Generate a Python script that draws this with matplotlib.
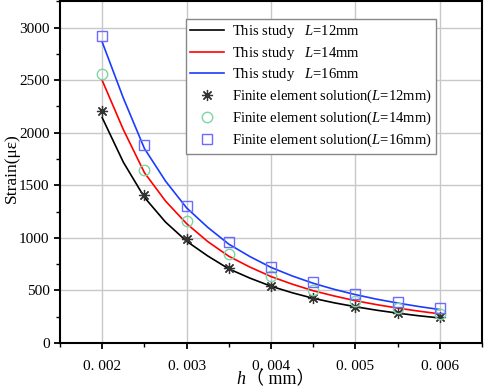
import matplotlib
matplotlib.use("Agg")
import matplotlib.pyplot as plt
from matplotlib.ticker import MultipleLocator, FixedLocator, FixedFormatter

plt.rcParams['font.family'] = ['Liberation Serif', 'DejaVu Serif']
plt.rcParams['mathtext.fontset'] = 'custom'
plt.rcParams['mathtext.rm'] = 'Liberation Serif'
plt.rcParams['mathtext.it'] = 'Liberation Serif:italic'

# Finite element solution (markers)
h_fe = [0.002, 0.0025, 0.003, 0.0035, 0.004, 0.0045, 0.005, 0.0055, 0.006]
fe_12 = [2205, 1405, 992, 715, 541, 427, 345, 288, 246]
fe_14 = [2555, 1650, 1160, 842, 636, 503, 399, 329, 275]
fe_16 = [2918, 1880, 1304, 956, 725, 582, 465, 392, 329]

# This study (curves), read at finer spacing
h_cur = [0.002, 0.00225, 0.0025, 0.00275, 0.003, 0.00325, 0.0035, 0.00375, 0.004,
         0.00425, 0.0045, 0.00475, 0.005, 0.00525, 0.0055, 0.00575, 0.006]
cur_12 = [2143, 1720, 1385, 1150, 968, 828, 705, 617, 540, 478, 425, 382, 345, 312, 284, 259, 238]
cur_14 = [2497, 2030, 1620, 1350, 1135, 965, 825, 722, 632, 560, 497, 447, 402, 365, 332, 303, 277]
cur_16 = [2862, 2330, 1850, 1540, 1285, 1100, 940, 822, 719, 638, 568, 510, 460, 417, 380, 347, 318]

xticks = [0.002, 0.003, 0.004, 0.005, 0.006]
xticklabels = ['0. 002', '0. 003', '0. 004', '0. 005', '0. 006']
yticks = [0, 500, 1000, 1500, 2000, 2500, 3000]

fig = plt.figure(figsize=(4.84, 3.92), dpi=100)
ax = fig.add_axes([0.124, 0.125, 0.872, 0.873])

ax.plot(h_cur, cur_12, color='black', lw=1.2, label='This study   $L$=12mm')
ax.plot(h_cur, cur_14, color='#ff0000', lw=1.2, label='This study   $L$=14mm')
ax.plot(h_cur, cur_16, color='#1a3cff', lw=1.2, label='This study   $L$=16mm')
ax.plot(h_fe, fe_12, linestyle='none', marker=(8, 2, 0), ms=8, mec='#333333', mew=0.9,
        label='Finite element solution($L$=12mm)')
ax.plot(h_fe, fe_14, linestyle='none', marker='o', ms=7.5, mfc='none', mec='#80d4a4', mew=1.0,
        label='Finite element solution($L$=14mm)')
ax.plot(h_fe, fe_16, linestyle='none', marker='s', ms=7, mfc='none', mec='#6b6bff', mew=1.0,
        label='Finite element solution($L$=16mm)')

ax.set_xlim(0.0015, 0.0065)
ax.set_ylim(0, 3255)
ax.xaxis.set_major_locator(FixedLocator(xticks))
ax.xaxis.set_major_formatter(FixedFormatter(xticklabels))
ax.xaxis.set_minor_locator(MultipleLocator(0.0005))
ax.yaxis.set_major_locator(FixedLocator(yticks))
ax.yaxis.set_minor_locator(MultipleLocator(250))

ax.grid(True, which='major', color='#c8c8c8', lw=1.0)
ax.set_axisbelow(True)
for s in ax.spines.values():
    s.set_linewidth(1.5)
    s.set_color('black')
ax.tick_params(which='major', direction='out', length=4, width=1.3, labelsize=11, colors='black')
ax.tick_params(which='minor', direction='out', length=3, width=1.0)
ax.tick_params(axis='x', pad=8)

# x label: italic h followed by full-width parentheses
ax.text(0.44, -0.108, 'h', transform=ax.transAxes, ha='right', va='center',
        fontsize=13, fontstyle='italic', family='Liberation Serif')
ax.text(0.44, -0.108, '（ mm）', transform=ax.transAxes, ha='left', va='center',
        fontsize=13, family=['Liberation Serif', 'Noto Sans CJK SC'])

ax.set_ylabel('Strain(με)', fontsize=12.5)
ax.yaxis.set_label_coords(-0.094, 0.51)

leg = ax.legend(loc='upper left', bbox_to_anchor=(0.298, 0.948), fontsize=10.5,
                frameon=True, fancybox=False, edgecolor='#888888', framealpha=1,
                handlelength=2.3, labelspacing=0.32, borderpad=0.3, handletextpad=0.55,
                borderaxespad=0)
leg.get_frame().set_linewidth(1.0)

fig.savefig('out.png', dpi=100)
